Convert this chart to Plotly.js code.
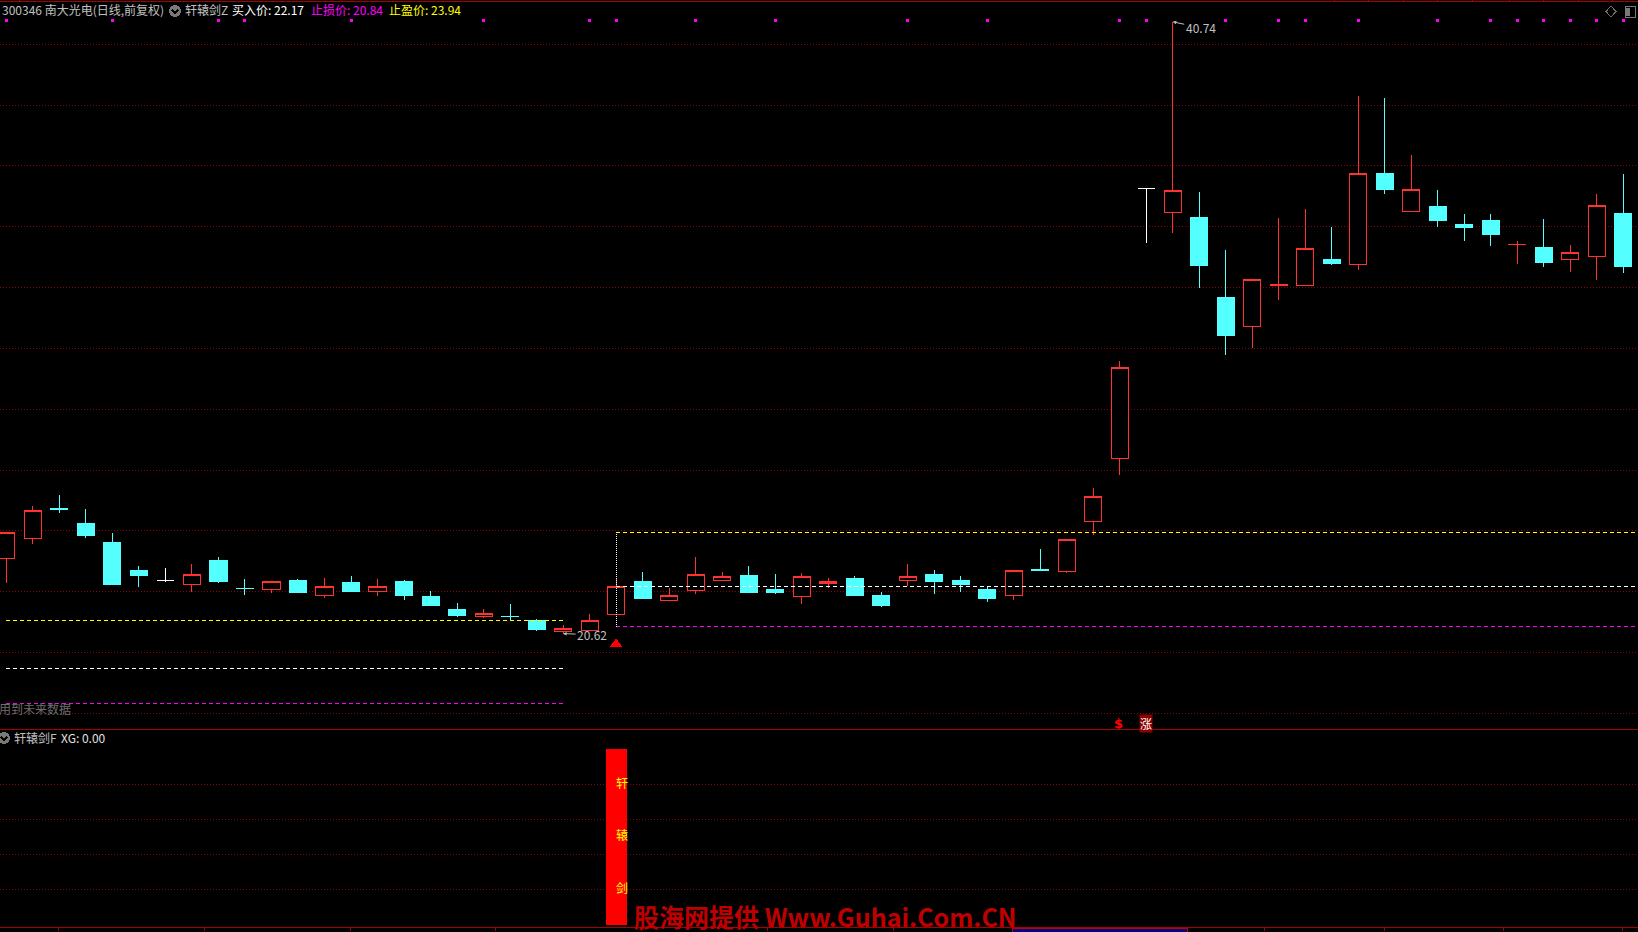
<!DOCTYPE html>
<html><head><meta charset="utf-8">
<script src="https://cdn.plot.ly/plotly-3.0.1.min.js"></script>
<style>html,body{margin:0;padding:0;background:#000;overflow:hidden}#c{width:1638px;height:932px}
#c .boxlayer path,#c .scatterlayer path,#c .barlayer path,#c .shapelayer path{shape-rendering:crispEdges}</style>
</head><body><div id="c"></div>
<script>
const opens=[23.09,23.74,24.75,24.25,23.63,22.71,22.37,22.23,23.04,22.12,22.07,22.38,21.87,22.29,21.99,22.32,21.83,21.43,21.17,21.20,21.04,20.68,20.71,21.24,22.35,21.70,22.03,22.36,22.52,22.06,21.84,22.26,22.42,21.86,22.36,22.58,22.38,22.06,21.87,22.73,22.66,24.30,26.37,35.26,34.46,34.29,31.69,30.71,32.07,32.06,32.91,32.75,35.74,34.50,34.68,34.09,34.22,33.41,33.33,32.92,33.02,34.42];
const highs=[23.93,24.82,25.18,24.72,23.92,22.84,22.78,22.91,23.13,22.42,22.34,22.42,22.45,22.52,22.42,22.38,22.02,21.63,21.43,21.60,21.10,20.90,21.27,22.45,22.65,22.12,23.14,22.65,22.84,22.58,22.62,22.45,22.52,21.99,22.91,22.71,22.52,22.15,22.70,23.40,23.72,25.41,29.59,35.26,40.74,35.14,33.22,32.27,34.29,34.58,33.99,38.30,38.23,36.36,35.21,34.42,34.42,33.53,34.26,33.40,35.08,35.74];
const lows=[22.30,23.58,24.60,23.77,22.22,22.15,22.33,21.99,22.29,21.89,21.96,21.96,21.79,22.02,21.86,21.73,21.53,21.17,21.13,21.05,20.71,20.62,20.71,21.24,21.76,21.70,21.92,22.36,21.96,21.92,21.60,22.13,21.86,21.50,22.19,21.92,21.99,21.66,21.73,22.68,22.61,23.86,25.84,33.48,33.80,31.99,29.78,30.01,31.59,32.06,32.74,32.58,35.08,34.50,33.99,33.53,33.37,32.78,32.68,32.51,32.25,32.48];
const closes=[23.93,24.68,24.70,23.84,22.22,22.52,22.37,22.57,22.32,22.10,22.34,21.96,22.18,22.02,22.18,21.89,21.56,21.23,21.29,21.18,20.77,20.80,21.06,22.18,21.79,21.88,22.57,22.51,21.96,21.96,22.51,22.34,21.86,21.53,22.51,22.32,22.22,21.76,22.70,22.71,23.72,25.14,29.38,35.26,35.20,32.71,30.44,32.27,32.09,33.29,32.78,35.76,35.24,35.23,34.22,33.96,33.76,33.43,32.81,33.16,34.71,32.68];
const whiteDoji=[6,43];
const dotIndex=[0,4,8,9,13,18,22,23,26,29,34,37,42,43,46,48,49,51,54,56,57,58,59,60,61];
const dotLevel=40.79;
const earlyLevels={profit:21.06,buy:19.48,stop:18.33};
const earlyRange=[0,21];
const lateLevels={profit:23.94,buy:22.17,stop:20.84};
const lateRange=[23,61.55];
const signalIndex=23;
const signalMark=20.28;
const xgValues=[1];
const swordChars=['轩','辕','剑'];
const swordLevels=[0.8,0.5,0.2];
const priceGrid=[18,20,22,24,26,28,30,32,34,36,38,40];
const xgGrid=[0.2,0.4,0.6,0.8];
const topTicks=[0.48,50.1,51.4,52.7,54.0,55.3,56.7,58.0,59.3,60.6];
const bottomTicks=[1.96,7.47,12.97,18.44,23.96,28.71,33.46,38.12,42.8,47.45,51.98,56.47,60.95];

const W=1638,H=932;
const RED='#ff3232',CYAN='#54ffff',LINE='#a80000',GRID='#900000',GRAY='#c0c0c0';
const px=v=>v/W, py=v=>1-v/H;
const idx=opens.map((_,i)=>i);
const main=idx.filter(i=>!whiteDoji.includes(i));
const pick=(a,s)=>s.map(i=>a[i]);
const candle=(s,inc,dec)=>({type:'candlestick',x:s,open:pick(opens,s),high:pick(highs,s),low:pick(lows,s),close:pick(closes,s),xaxis:'x',yaxis:'y',whiskerwidth:0,increasing:inc,decreasing:dec,hoverinfo:'skip',showlegend:false});
const hline=(r,v,c)=>({type:'scatter',mode:'lines',x:r,y:[v,v],xaxis:'x',yaxis:'y',line:{color:c,width:1,dash:'4px,3px'},hoverinfo:'skip',showlegend:false});
const data=[
 candle(main,{line:{color:RED,width:1},fillcolor:'#000'},{line:{color:CYAN,width:1},fillcolor:CYAN}),
 candle(whiteDoji,{line:{color:'#fff',width:1},fillcolor:'#fff'},{line:{color:'#fff',width:1},fillcolor:'#fff'}),
 hline(earlyRange,earlyLevels.profit,'#ffff00'),hline(earlyRange,earlyLevels.buy,'#ffffff'),hline(earlyRange,earlyLevels.stop,'#ff00ff'),
 hline(lateRange,lateLevels.profit,'#ffff00'),hline(lateRange,lateLevels.buy,'#ffffff'),hline(lateRange,lateLevels.stop,'#ff00ff'),
 {type:'scatter',mode:'lines',x:[signalIndex,signalIndex],y:[lateLevels.stop,lateLevels.profit],xaxis:'x',yaxis:'y',line:{color:'#fff',width:1,dash:'1px,1px'},hoverinfo:'skip',showlegend:false},
 {type:'scatter',mode:'markers',x:[signalIndex],y:[signalMark],xaxis:'x',yaxis:'y',marker:{symbol:'triangle-up',size:11,color:'#ff0000'},hoverinfo:'skip',showlegend:false},
 {type:'scatter',mode:'markers',x:dotIndex,y:dotIndex.map(()=>dotLevel),xaxis:'x',yaxis:'y',marker:{symbol:'square',size:3,color:'#ff00ff'},hoverinfo:'skip',showlegend:false},
 {type:'bar',x:[signalIndex],y:xgValues,width:0.79,xaxis:'x2',yaxis:'y2',marker:{color:'#ff0000',line:{width:0}},hoverinfo:'skip',showlegend:false},
 {type:'scatter',mode:'text',x:swordChars.map(()=>signalIndex),y:swordLevels,text:swordChars,textposition:'middle right',textfont:{family:'"Noto Sans CJK SC"',size:12,color:'#ffff00'},xaxis:'x2',yaxis:'y2',hoverinfo:'skip',showlegend:false,cliponaxis:false}
];
const txt=(s,x,y,c,extra)=>Object.assign({text:s,xref:'paper',yref:'paper',x:px(x),y:py(y),xanchor:'left',yanchor:'middle',showarrow:false,font:{family:'"Noto Sans CJK SC"',size:12,color:c}},extra||{});
const mark=(s,i,level,ax,ay)=>({text:s,xref:'x',yref:'y',x:i,y:level,showarrow:true,arrowcolor:GRAY,arrowwidth:1,arrowhead:2,arrowsize:0.7,ax:ax,ay:ay,axref:'pixel',ayref:'pixel',font:{family:'"Noto Sans CJK SC"',size:12,color:GRAY}});
const annotations=[
 txt('300346 南大光电(日线,前复权)',0,10,GRAY),
 txt('轩辕剑Z',183,10,GRAY),
 txt('买入价: 22.17',229.5,10,'#ffffff'),
 txt('止损价: 20.84',309,10,'#ff00ff'),
 txt('止盈价: 23.94',387,10,'#ffff00'),
 txt('轩辕剑F',12,737,GRAY),
 txt('XG: 0.00',59,737,'#e0e0e0'),
 txt('用到未来数据',-3.5,708.5,'#6e6e6e'),
 mark('40.74',44,40.74,28,6),
 mark('20.62',21,20.62,29,1),
 {text:'<b>$</b>',xref:'x',yref:'y',x:42,y:17.68,xshift:-1,showarrow:false,font:{family:'"DejaVu Sans"',size:13,color:'#ff0000'}},
 {text:'涨',xref:'x',yref:'y',x:43,y:17.68,showarrow:false,bgcolor:'#8c0000',borderpad:0,font:{family:'"Noto Sans CJK SC"',size:12,color:'#ffffff'}},
 txt('股海网提供 Www.Guhai.Com.CN',632,916,'#c00000',{font:{family:'"Noto Sans CJK SC"',size:25,color:'#c00000',weight:700}})
];
const pth=(s,o)=>Object.assign({type:'path',xref:'paper',yref:'paper',path:s},o);
const P=(x,y)=>`${px(x)},${py(y)}`;
const circle=(cx,cy,r)=>({type:'circle',xref:'paper',yref:'paper',x0:px(cx-r),x1:px(cx+r),y0:py(cy+r),y1:py(cy-r),fillcolor:'#7a7a7a',line:{width:0}});
const chev=(cx,cy)=>pth(`M${P(cx-3,cy-1)} L${P(cx,cy+2)} L${P(cx+3,cy-1)}`,{line:{color:'#000',width:1.5}});
const shapes=[
 circle(175,11,6),chev(175,11),circle(4,738,6),chev(4,738),
 pth(`M${P(1611,6)} L${P(1616,11.5)} L${P(1611,17)} L${P(1606,11.5)} Z`,{line:{color:'#6e6e6e',width:1}}),
 {type:'rect',xref:'paper',yref:'paper',x0:px(1625),x1:px(1635.5),y0:py(17),y1:py(6.5),line:{color:'#7a7a7a',width:1}},
 {type:'rect',xref:'paper',yref:'paper',x0:px(1626),x1:px(1630),y0:py(16),y1:py(7.5),fillcolor:'#7a7a7a',line:{width:0}},
 {type:'rect',xref:'paper',yref:'paper',x0:px(1012),x1:px(1187),y0:py(934),y1:py(928),fillcolor:'#000080',line:{color:'#c00000',width:1}}
];
const xRange=[-0.2414,61.55];
const layout={width:W,height:H,autosize:false,margin:{l:0,r:0,t:0,b:0,pad:0},paper_bgcolor:'#000',plot_bgcolor:'#000',showlegend:false,hovermode:false,boxgap:0.08,
 xaxis:{domain:[0,1],range:xRange,anchor:'y',side:'top',rangeslider:{visible:false},showgrid:false,zeroline:false,showline:true,linecolor:LINE,linewidth:1,tickmode:'array',tickvals:topTicks,ticks:'outside',ticklen:1,tickcolor:LINE,showticklabels:false},
 yaxis:{domain:[1-729/H,1-2/H],range:[17.484,41.391],showgrid:true,gridcolor:GRID,griddash:'1px,2px',gridwidth:1,zeroline:false,showline:false,tickmode:'array',tickvals:priceGrid,ticks:'',showticklabels:false},
 xaxis2:{domain:[0,1],range:xRange,anchor:'y2',showgrid:false,zeroline:false,showline:true,mirror:true,linecolor:LINE,linewidth:1,tickmode:'array',tickvals:bottomTicks,ticks:'outside',ticklen:3,tickcolor:LINE,showticklabels:false},
 yaxis2:{domain:[1-927/H,1-729.5/H],range:[-0.01136,1.1136],showgrid:true,gridcolor:GRID,griddash:'1px,2px',gridwidth:1,zeroline:false,showline:false,tickmode:'array',tickvals:xgGrid,ticks:'',showticklabels:false},
 annotations:annotations,shapes:shapes};
Plotly.newPlot('c',data,layout,{displayModeBar:false,staticPlot:true});
</script></body></html>
